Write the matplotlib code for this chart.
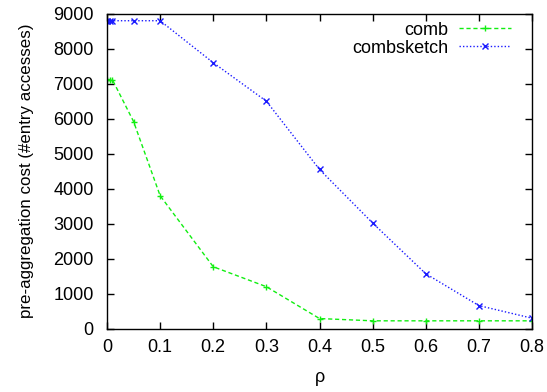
import matplotlib
matplotlib.use("Agg")
import matplotlib.pyplot as plt

plt.rcParams['font.family'] = ['Liberation Sans', 'DejaVu Sans']

rho = [0, 0.005, 0.01, 0.05, 0.1, 0.2, 0.3, 0.4, 0.5, 0.6, 0.7, 0.8]
comb = [7120, 7120, 7120, 5920, 3800, 1770, 1200, 290, 225, 225, 225, 225]
combsketch = [8800, 8800, 8800, 8800, 8800, 7600, 6500, 4550, 3020, 1570, 660, 300]
xticks = [0, 0.1, 0.2, 0.3, 0.4, 0.5, 0.6, 0.7, 0.8]
yticks = [0, 1000, 2000, 3000, 4000, 5000, 6000, 7000, 8000, 9000]

fs = 13
fig = plt.figure(figsize=(5.47, 3.92), dpi=100)
ax = fig.add_axes([0.1956, 0.1615, 0.777, 0.8035])

ax.plot(rho, comb, color='#11ee11', linestyle=(0, (3, 2)), linewidth=1.0,
        marker='+', markersize=5, markeredgewidth=1.0, label='comb')
ax.plot(rho, combsketch, color='#1a1aff', linestyle=(0, (1, 1.5)), linewidth=1.0,
        marker='x', markersize=4, markeredgewidth=1.0, label='combsketch')

ax.set_xlim(0, 0.8)
ax.set_ylim(0, 9000)
ax.set_xticks(xticks)
ax.set_xticklabels(['0', '0.1', '0.2', '0.3', '0.4', '0.5', '0.6', '0.7', '0.8'])
ax.set_yticks(yticks)
ax.tick_params(direction='in', top=True, right=True, length=5, width=1,
               labelsize=fs)
ax.tick_params(axis='x', pad=7.4)
ax.tick_params(axis='y', pad=9.5)
for s in ax.spines.values():
    s.set_linewidth(1)
ax.set_xlabel('ρ', fontsize=fs)
ax.xaxis.set_label_coords(0.5, -0.127)
ax.set_ylabel('pre-aggregation cost (#entry accesses)', fontsize=12.2)
ax.yaxis.set_label_coords(-0.172, 0.5)

leg = ax.legend(loc='upper right', frameon=False, markerfirst=False, fontsize=fs,
                handlelength=2.9, borderaxespad=0.3, labelspacing=0.05,
                handletextpad=0.6, bbox_to_anchor=(0.981, 1.015))
for t in leg.get_texts():
    t.set_ha('right')
leg._legend_box.align = 'right'

fig.savefig('out.png', dpi=100)
